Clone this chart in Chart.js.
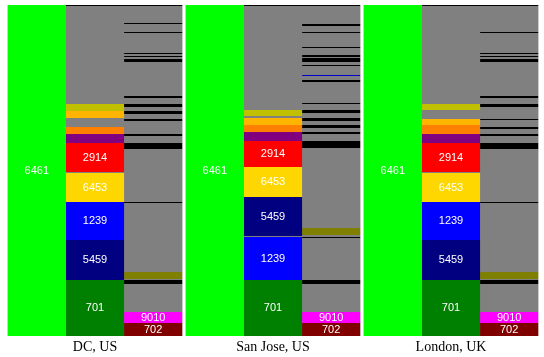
<!DOCTYPE html>
<html>
<head>
<meta charset="utf-8">
<script src="https://cdn.jsdelivr.net/npm/chart.js@4/dist/chart.umd.min.js"></script>
<style>
  html, body { margin: 0; padding: 0; background: #fff; }
  #c { display: block; }
</style>
</head>
<body>
<canvas id="c" width="544" height="357"></canvas>
<script>
// ---------------- DATA ----------------
const panels = ['DC, US', 'San Jose, US', 'London, UK'];

// first column: the whole share goes through AS 6461
const rootAS = '6461';
const rootTotals = [331, 331, 331];

// second column, bottom -> top
const midKeysDC  = ['701','5459','1239','6453','other','2914','u-purple','u-orange','other','u-amber','u-olive','other','unres'];
const midValsDC  = [56, 40, 38, 29, 1, 29, 9, 7, 9, 7, 7, 98, 1];
const midKeysSJ  = ['701','1239','other','5459','6453','2914','u-purple','u-orange','u-amber','other','u-olive','other','unres'];
const midValsSJ  = [56, 43, 1, 39, 30, 26, 9, 7, 7, 2, 6, 104, 1];
const midKeysLON = ['701','5459','1239','6453','other','2914','u-purple','u-orange','u-amber','other','u-olive','other','unres'];
const midValsLON = [56, 40, 38, 29, 1, 29, 9, 9, 6, 9, 6, 98, 1];

// third column, bottom -> top
const nextKeysDC  = ['702','9010','other','unres','other','u-olive2','other','unres','other','unres','other','unres',
                     'other','unres','other','unres','other','unres','other','unres','other','unres','other','unres',
                     'other','unres','other','unres','other','unres','other','unres'];
const nextValsDC  = [13, 11, 28, 4, 1, 7, 69, 1, 53, 6, 7, 2, 13, 2, 5, 3, 4, 3, 6, 2, 34, 3, 2, 1, 2, 1, 20, 1, 8, 1, 17, 1];
const nextKeysSJ  = ['702','9010','other','unres','other','unres','other','u-olive2','other','unres','other','unres',
                     'other','unres','other','unres','other','unres','other','unres','other','unres','other','u-blue',
                     'other','unres','other','unres','other','unres','other','unres','other','unres','other','unres',
                     'other','unres'];
const nextValsSJ  = [13, 11, 28, 4, 42, 1, 2, 7, 80, 7, 7, 2, 4, 3, 4, 3, 5, 3, 6, 1, 21, 2, 4, 1, 9, 1, 3, 4, 1, 2, 7, 1, 14, 1, 6, 2, 18, 1];
const nextKeysLON = ['702','9010','other','unres','other','u-olive2','other','unres','other','unres','other','unres',
                     'other','unres','other','unres','other','unres','other','unres','other','unres','other','unres',
                     'other','unres','other','unres','other','unres'];
const nextValsLON = [13, 11, 28, 4, 1, 7, 69, 1, 53, 6, 7, 2, 5, 2, 7, 1, 12, 3, 6, 2, 34, 3, 2, 1, 2, 1, 20, 1, 26, 1];

// ---------------- STYLE ----------------
const colorOf = {
  '6461': '#00ff00', '701': '#008000', '5459': '#000080', '1239': '#0000ff',
  '6453': '#ffd700', '2914': '#ff0000', '702': '#800000', '9010': '#ff00ff',
  'u-purple': '#800080', 'u-orange': '#ff8000', 'u-amber': '#ffb400', 'u-olive': '#c0c000',
  'u-olive2': '#808000', 'u-blue': '#0000c8', 'other': '#808080', 'unres': '#000000'
};
const isLabelled = k => /^\d+$/.test(k);

// ---------------- BUILD DATASETS ----------------
function buildStack(keysList, valsList, stackName) {
  const n = Math.max(...valsList.map(v => v.length));
  const out = [];
  for (let k = 0; k < n; k++) {
    out.push({
      stack: stackName,
      data: valsList.map(v => v[k] !== undefined ? v[k] : 0),
      backgroundColor: keysList.map(ks => colorOf[ks[k]] || '#808080'),
      segLabels: keysList.map(ks => (ks[k] && isLabelled(ks[k])) ? ks[k] : ''),
      borderWidth: 0
    });
  }
  return out;
}

const datasets = [
  {
    stack: 'root',
    data: rootTotals,
    backgroundColor: panels.map(() => colorOf[rootAS]),
    segLabels: panels.map(() => rootAS),
    borderWidth: 0
  },
  ...buildStack([midKeysDC, midKeysSJ, midKeysLON], [midValsDC, midValsSJ, midValsLON], 'mid'),
  ...buildStack([nextKeysDC, nextKeysSJ, nextKeysLON], [nextValsDC, nextValsSJ, nextValsLON], 'next')
];

// gray backing behind each panel (shows as thin separators between columns)
const panelBacking = {
  id: 'panelBacking',
  beforeDatasetsDraw(chart) {
    const ctx = chart.ctx;
    const first = chart.getDatasetMeta(0).data;
    const last = chart.getDatasetMeta(chart.data.datasets.length - 1).data;
    const area = chart.chartArea;
    ctx.save();
    ctx.fillStyle = colorOf.other;
    first.forEach((el, j) => {
      const a = el.getProps(['x', 'width'], true);
      const b = last[j].getProps(['x', 'width'], true);
      const l = a.x - a.width / 2, r = b.x + b.width / 2;
      ctx.fillRect(l, area.top, r - l, area.bottom - area.top);
    });
    ctx.restore();
  }
};

const segmentLabels = {
  id: 'segmentLabels',
  afterDatasetsDraw(chart) {
    const ctx = chart.ctx;
    ctx.save();
    ctx.fillStyle = '#ffffff';
    ctx.font = '11px "Liberation Sans", sans-serif';
    ctx.textAlign = 'center';
    ctx.textBaseline = 'middle';
    chart.data.datasets.forEach((ds, i) => {
      const meta = chart.getDatasetMeta(i);
      meta.data.forEach((el, j) => {
        const t = ds.segLabels && ds.segLabels[j];
        if (!t) return;
        const p = el.getProps(['x', 'y', 'base'], true);
        ctx.fillText(t, p.x, (p.y + p.base) / 2);
      });
    });
    ctx.restore();
  }
};

new Chart(document.getElementById('c'), {
  type: 'bar',
  data: { labels: panels, datasets },
  options: {
    responsive: false,
    animation: false,
    layout: { padding: { left: 6, right: 4, top: 5, bottom: 0 } },
    datasets: { bar: { barPercentage: 1, categoryPercentage: 0.98 } },
    plugins: { legend: { display: false }, tooltip: { enabled: false } },
    scales: {
      x: {
        stacked: true,
        grid: { display: false, drawTicks: false },
        border: { display: false },
        ticks: { color: '#000', padding: 3, font: { family: '"Liberation Serif", serif', size: 14 } },
        afterFit: s => { s.height = 21; }
      },
      y: {
        stacked: true,
        display: false,
        min: 0,
        max: rootTotals[0]
      }
    }
  },
  plugins: [panelBacking, segmentLabels]
});
</script>
</body>
</html>
